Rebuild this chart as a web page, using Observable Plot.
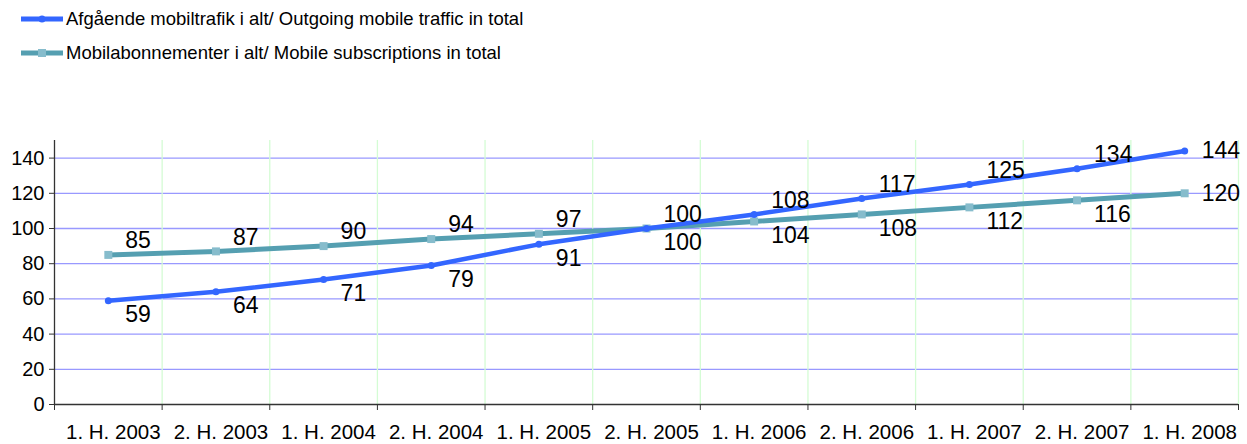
<!DOCTYPE html>
<html><head><meta charset="utf-8">
<script src="https://cdn.jsdelivr.net/npm/d3@7"></script>
<script src="https://cdn.jsdelivr.net/npm/@observablehq/plot@0.6"></script>
<style>
body{margin:0;background:#fff;font-family:"Liberation Sans",Arial,sans-serif;}
#wrap{position:relative;width:1247px;height:444px;overflow:hidden;}
#chart{position:absolute;left:0;top:0;}
#legend{position:absolute;left:0;top:0;}
.item{position:absolute;left:21px;height:24px;display:flex;align-items:center;font-size:18.5px;color:#000;white-space:nowrap;}
.item svg{margin-right:3px;}
</style></head><body>
<div id="wrap"><div id="chart"></div><div id="legend"></div></div>
<script>
const categories = ["1. H. 2003","2. H. 2003","1. H. 2004","2. H. 2004","1. H. 2005","2. H. 2005","1. H. 2006","2. H. 2006","1. H. 2007","2. H. 2007","1. H. 2008"];
const trafficValues = [59,64,71,79,91,100,108,117,125,134,144];
const subscriptionValues = [85,87,90,94,97,100,104,108,112,116,120];
const seriesNames = ["Afgående mobiltrafik i alt/ Outgoing mobile traffic in total","Mobilabonnementer i alt/ Mobile subscriptions in total"];
const yTicks = [0,20,40,60,80,100,120,140];

const trafficColor = "#3366ff";
const subsColor = "#559fb1";
const subsMarker = "#86bccc";

// legend
const legend = document.getElementById("legend");
[
  {name: seriesNames[0], color: trafficColor, marker: "dot", top: 7},
  {name: seriesNames[1], color: subsColor, marker: "square", top: 41}
].forEach(s => {
  const div = document.createElement("div");
  div.className = "item";
  div.style.top = s.top + "px";
  const m = s.marker === "dot"
    ? `<circle cx="21" cy="12" r="3.5" fill="${s.color}"/>`
    : `<rect x="17" y="8" width="8" height="8" fill="${subsMarker}"/>`;
  div.innerHTML = `<svg width="42" height="24"><line x1="0" x2="42" y1="12" y2="12" stroke="${s.color}" stroke-width="5"/>${m}</svg><span>${s.name}</span>`;
  legend.appendChild(div);
});

const n = categories.length;
const bounds = d3.range(n + 1).map(k => k - 0.5);
const rows = categories.flatMap((c, i) => [
  {i, cat: c, series: 0, value: trafficValues[i], other: subscriptionValues[i]},
  {i, cat: c, series: 1, value: subscriptionValues[i], other: trafficValues[i]}
]);
const traffic = rows.filter(d => d.series === 0);
const subs = rows.filter(d => d.series === 1);
function labelDy(d) {
  if (d.i === n - 1) return 0;
  const above = d.series === 0 ? d.value >= d.other : d.value > d.other;
  return above ? -14 : 14;
}
const labelsAbove = rows.filter(d => d.i < n - 1 && labelDy(d) < 0);
const labelsBelow = rows.filter(d => d.i < n - 1 && labelDy(d) > 0);
const labelsRight = rows.filter(d => d.i === n - 1);

const font = "Liberation Sans, Arial, sans-serif";
const chart = Plot.plot({
  width: 1247, height: 444,
  marginTop: 140, marginBottom: 40, marginLeft: 54, marginRight: 9,
  style: {fontFamily: font, background: "transparent", overflow: "visible"},
  x: {type: "linear", domain: [-0.5, n - 0.5]},
  y: {domain: [0, 150]},
  marks: [
    Plot.ruleY(yTicks.filter(v => v > 0), {stroke: "#9999ff", strokeWidth: 1.3}),
    Plot.ruleX(bounds.slice(1), {y1: 0, y2: 150, stroke: "#d4fcd4", strokeWidth: 1.3}),
    Plot.ruleX([-0.5], {y1: 0, y2: 150, stroke: "#333", strokeWidth: 1.3}),
    Plot.ruleY([0], {stroke: "#333", strokeWidth: 1.3}),
    Plot.axisY({ticks: yTicks, tickSize: 5, tickPadding: 5, fontSize: 20, fill: "#000", stroke: "#333", label: null}),
    Plot.axisX({ticks: bounds, tickSize: 6, tickFormat: () => "", stroke: "#333", label: null}),
    Plot.axisX({ticks: d3.range(n), tickSize: 0, tickPadding: 20, tickFormat: i => categories[i], fontSize: 20.5, fill: "#000", dx: 5, label: null}),
    Plot.line(subs, {x: "i", y: "value", stroke: subsColor, strokeWidth: 5}),
    Plot.dot(subs, {x: "i", y: "value", symbol: "square", r: 4.5, fill: subsMarker, stroke: null}),
    Plot.line(traffic, {x: "i", y: "value", stroke: trafficColor, strokeWidth: 4.5}),
    Plot.dot(traffic, {x: "i", y: "value", r: 3.5, fill: trafficColor, stroke: null}),
    Plot.text(labelsAbove, {x: "i", y: "value", text: d => String(d.value), dx: 17, dy: -14, textAnchor: "start", fontSize: 23, fill: "#000"}),
    Plot.text(labelsBelow, {x: "i", y: "value", text: d => String(d.value), dx: 17, dy: 14, textAnchor: "start", fontSize: 23, fill: "#000"}),
    Plot.text(labelsRight, {x: "i", y: "value", text: d => String(d.value), dx: 17, dy: 0, textAnchor: "start", fontSize: 23, fill: "#000"})
  ]
});
document.getElementById("chart").appendChild(chart);
</script>
</body></html>
